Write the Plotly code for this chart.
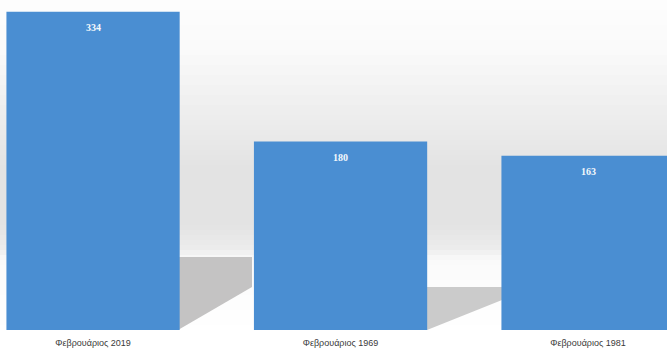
import plotly.graph_objects as go

categories = ["Φεβρουάριος 2019", "Φεβρουάριος 1969", "Φεβρουάριος 1981"]
values = [334, 180, 163]

Y_MIN, Y_MAX = -44.2, 348.1
X_MIN, X_MAX = -0.376, 2.319
BAR_COLOR = "#4a8ed2"

fig = go.Figure()
fig.add_trace(go.Bar(
    x=list(range(len(categories))), y=[v - Y_MIN for v in values], base=Y_MIN,
    marker=dict(color=BAR_COLOR, line=dict(width=0)),
    width=0.70, hoverinfo="skip",
))

# value labels
for i, v in enumerate(values):
    fig.add_annotation(x=i, y=v, text=f"<b>{v}</b>", showarrow=False, yshift=-16,
                       font=dict(family="Liberation Serif", size=10, color="#f4f8fc"))

# background gradient (paper coordinates; plot area spans full height 0..330px)
H = 330.0
stops = [(0, (253, 253, 253)), (50, (250, 250, 250)), (110, (238, 238, 238)),
         (170, (227, 227, 227)), (225, (227, 227, 227)), (248, (236, 236, 236)),
         (260, (250, 250, 250)), (330, (255, 255, 255))]
def col_at(y):
    for (y0, c0), (y1, c1) in zip(stops[:-1], stops[1:]):
        if y0 <= y <= y1:
            t = (y - y0) / (y1 - y0) if y1 > y0 else 0
            return "rgb(%d,%d,%d)" % tuple(round(a + (b - a) * t) for a, b in zip(c0, c1))
    return "rgb(255,255,255)"
step = 5
for y in range(0, 330, step):
    fig.add_shape(type="rect", xref="paper", yref="paper", x0=0, x1=1,
                  y0=1 - (y + step) / H, y1=1 - y / H,
                  fillcolor=col_at(y + step / 2), line=dict(width=0), layer="below")

# floor shadows (pixel -> paper)
def px(x):
    return x / 667.0
def py(y):
    return 1 - y / H
def shadow(x0, x1, ytop, yright, color):
    path = f"M {px(x0)},{py(ytop)} L {px(x1)},{py(ytop)} L {px(x1)},{py(yright)} L {px(x0)},{py(330)} Z"
    fig.add_shape(type="path", xref="paper", yref="paper", path=path,
                  fillcolor=color, line=dict(width=0), layer="below")
shadow(178, 252, 257, 287, "#c4c3c3")
shadow(427, 502, 287, 300, "#cbcbcb")

fig.update_layout(
    width=667, height=352,
    margin=dict(l=0, r=0, t=0, b=22),
    paper_bgcolor="white", plot_bgcolor="rgba(0,0,0,0)",
    showlegend=False,
    xaxis=dict(range=[X_MIN, X_MAX], tickmode="array",
               tickvals=list(range(len(categories))), ticktext=categories,
               showgrid=False, zeroline=False, showline=False, ticks="",
               ticklabelstandoff=6,
               tickfont=dict(family="Liberation Sans", size=9, color="#3a3a3a")),
    yaxis=dict(range=[Y_MIN, Y_MAX], visible=False, showgrid=False, zeroline=False),
)

fig.write_html("out.html")
